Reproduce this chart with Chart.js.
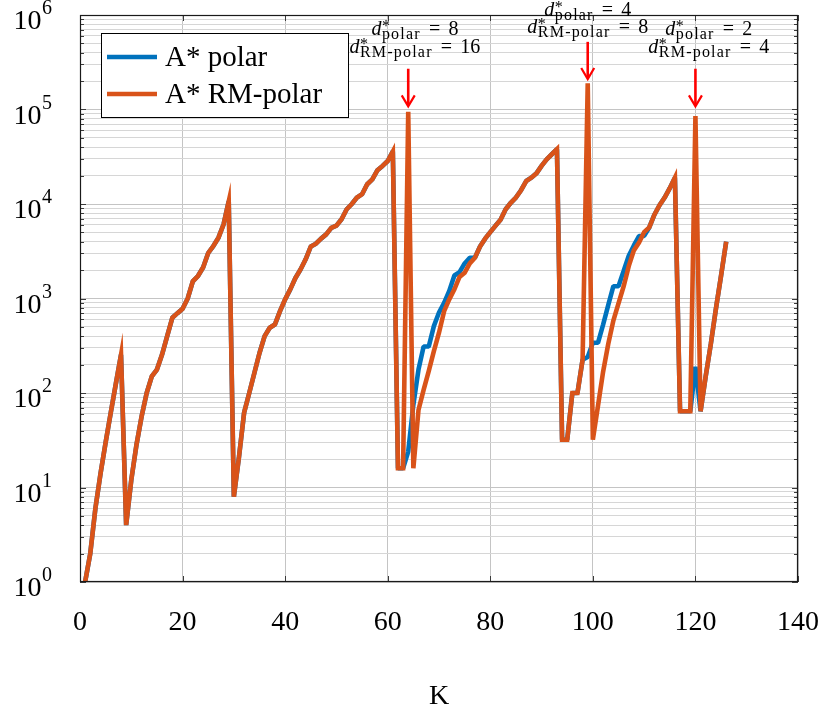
<!DOCTYPE html>
<html>
<head>
<meta charset="utf-8">
<script src="https://cdn.jsdelivr.net/npm/chart.js@4.4.1/dist/chart.umd.min.js"></script>
<style>
html,body{margin:0;padding:0;background:#ffffff;}
#wrap{width:824px;height:711px;position:relative;}
</style>
</head>
<body>
<div id="wrap"><canvas id="chart" width="824" height="711"></canvas></div>
<script>
// ---------------- data ----------------
const kValues = [
  1,2,3,4,5,6,7,8,9,10,
  11,12,13,14,15,16,17,18,19,20,
  21,22,23,24,25,26,27,28,29,30,
  31,32,33,34,35,36,37,38,39,40,
  41,42,43,44,45,46,47,48,49,50,
  51,52,53,54,55,56,57,58,59,60,
  61,62,63,64,65,66,67,68,69,70,
  71,72,73,74,75,76,77,78,79,80,
  81,82,83,84,85,86,87,88,89,90,
  91,92,93,94,95,96,97,98,99,100,
  101,102,103,104,105,106,107,108,109,110,
  111,112,113,114,115,116,117,118,119,120,
  121,122,123,124,125,126
];
const polarValues = [
  1,2,6,14,30,62,126,254,4,12,
  28,56,100,150,177,255,400,625,700,780,
  1000,1520,1730,2130,3030,3590,4400,6100,10668,8,
  21,62,100,163,265,400,490,530,735,980,
  1250,1650,2030,2600,3550,3800,4300,4770,5600,5900,
  6900,8800,10000,11700,12700,16200,18200,22800,25300,28500,
  36000,16,16,24,75,177,310,310,510,710,
  900,1200,1750,1900,2350,2700,2700,3550,4300,5040,
  5870,6800,8800,10300,11700,14000,17500,19000,21100,25300,
  29700,33600,38000,32,32,100,100,225,240,340,
  340,530,850,1350,1350,1950,2830,3640,4570,4600,
  5650,7700,9700,11700,14700,19000,64,64,64,190,
  64,150,330,780,1750,4000
];
const rmPolarValues = [
  1,2,6,14,30,62,126,254,4,12,
  28,56,100,150,177,255,400,625,700,780,
  1000,1520,1730,2130,3030,3590,4400,6100,10668,8,
  21,62,100,163,265,400,490,530,735,980,
  1250,1650,2030,2600,3550,3800,4300,4770,5600,5900,
  6900,8800,10000,11700,12700,16200,18200,22800,25300,28500,
  36000,16,16,94488,16,66,108,170,277,435,
  735,980,1250,1690,1870,2350,2700,3550,4300,5040,
  5870,6800,8800,10300,11700,14000,17500,19000,21100,25300,
  29700,33600,38000,32,32,100,100,225,188976,32,
  73,168,330,585,890,1340,2200,3230,3900,5050,
  5650,7700,9700,11700,14700,19000,64,64,64,85344,
  64,150,330,780,1750,4000
];
const seriesLabels = ['A* polar', 'A* RM-polar'];
const xTickValues = [0, 20, 40, 60, 80, 100, 120, 140];
const xTickLabels = ['0', '20', '40', '60', '80', '100', '120', '140'];
const yTickValues = [1, 10, 100, 1000, 10000, 100000, 1000000];
const yTickBases = ['10', '10', '10', '10', '10', '10', '10'];
const yTickExponents = ['0', '1', '2', '3', '4', '5', '6'];
const yMinorMultipliers = [2, 3, 4, 5, 6, 7, 8, 9];
const xAxisTitle = 'K';

// annotation content
const annotationK = [64, 99, 120];
const annotationLabelK = [65.3, 99, 122.6];
const annotationPolarD = ['8', '4', '2'];
const annotationRMD = ['16', '8', '4'];
const annotationLabelValue = [6.1e5, 9.8e5, 6.1e5];
const annotationArrowFrom = [2.7e5, 5.2e5, 2.7e5];
const annotationArrowTo = [1.08e5, 2.1e5, 1.08e5];

// ---------------- style ----------------
const SERIF = "'Liberation Serif', 'DejaVu Serif', serif";
const BLUE = '#0072BD';
const ORANGE = '#D95319';
const MAJOR_GRID = '#c4c4c4';
const MINOR_GRID = '#d6d6d6';

function isDecade(v) {
  const l = Math.log10(v);
  return Math.abs(l - Math.round(l)) < 1e-9;
}
const yGridValues = [];
yTickValues.forEach((d, i) => {
  yGridValues.push(d);
  if (i < yTickValues.length - 1) yMinorMultipliers.forEach(m => yGridValues.push(d * m));
});

const polarData = kValues.map((k, i) => ({x: k, y: polarValues[i]}));
const rmData = kValues.map((k, i) => ({x: k, y: rmPolarValues[i]}));

function drawDLabel(ctx, cx, baseline, sub, val) {
  const F = 20, S = 16, LS = 1.2;
  const mainItal = `italic ${F}px ${SERIF}`;
  const mainUp = `${F}px ${SERIF}`;
  const small = `${S}px ${SERIF}`;
  const hasLS = ('letterSpacing' in ctx);
  ctx.font = mainItal; const wd = ctx.measureText('d').width;
  ctx.font = small;
  if (hasLS) ctx.letterSpacing = LS + 'px';
  const wsub = ctx.measureText(sub).width;
  if (hasLS) ctx.letterSpacing = '0px';
  ctx.font = mainUp;
  const wEqGlyph = ctx.measureText('=').width;
  const wVal = ctx.measureText(val).width;
  const gap = 0.29 * F, eqBox = 0.8 * F;
  const total = wd + 0.5 + wsub + gap + eqBox + gap + wVal;
  const x = cx - total / 2;
  ctx.fillStyle = '#000';
  ctx.textAlign = 'left';
  ctx.textBaseline = 'alphabetic';
  ctx.font = mainItal; ctx.fillText('d', x, baseline);
  ctx.font = small;
  ctx.fillText('*', x + wd + 0.5, baseline - 4);
  if (hasLS) ctx.letterSpacing = LS + 'px';
  ctx.fillText(sub, x + wd + 0.5, baseline + 4);
  if (hasLS) ctx.letterSpacing = '0px';
  ctx.font = mainUp;
  const xe = x + wd + 0.5 + wsub + gap;
  ctx.fillText('=', xe + (eqBox - wEqGlyph) / 2, baseline);
  ctx.fillText(val, xe + eqBox + gap, baseline);
}

const decorPlugin = {
  id: 'decor',
  afterDatasetsDraw(chart) {
    const {ctx, chartArea: a, scales: {x, y}} = chart;
    ctx.save();
    ctx.strokeStyle = '#3a3a3a';
    ctx.lineWidth = 1;
    ctx.beginPath();
    xTickValues.forEach(v => {
      const px = Math.round(x.getPixelForValue(v)) + 0.5;
      ctx.moveTo(px, a.bottom); ctx.lineTo(px, a.bottom - 6);
      ctx.moveTo(px, a.top); ctx.lineTo(px, a.top + 6);
    });
    yGridValues.forEach(v => {
      const py = Math.round(y.getPixelForValue(v)) + 0.5;
      const len = isDecade(v) ? 6 : 4;
      ctx.moveTo(a.left, py); ctx.lineTo(a.left + len, py);
      ctx.moveTo(a.right, py); ctx.lineTo(a.right - len, py);
    });
    ctx.stroke();
    ctx.strokeStyle = '#1a1a1a';
    ctx.lineWidth = 1.2;
    ctx.strokeRect(Math.round(a.left) + 0.5, Math.round(a.top) + 0.5, Math.round(a.width) - 1, Math.round(a.height) - 1);
    ctx.restore();
  },
  afterDraw(chart) {
    const {ctx, chartArea: a, scales: {x, y}} = chart;
    ctx.save();
    // y tick labels: base with raised exponent
    yTickValues.forEach((v, i) => {
      const py = y.getPixelForValue(v);
      ctx.fillStyle = '#000';
      ctx.textBaseline = 'alphabetic';
      ctx.font = `20px ${SERIF}`;
      ctx.textAlign = 'right';
      const right = a.left - 28;
      ctx.fillText(yTickExponents[i], right, py - 1);
      const we = ctx.measureText(yTickExponents[i]).width;
      ctx.font = `28px ${SERIF}`;
      ctx.fillText(yTickBases[i], right - we - 0.5, py + 14);
    });
    // legend box
    const bx = 101, by = 33, bw = 247, bh = 84;
    ctx.fillStyle = '#ffffff';
    ctx.fillRect(bx, by, bw, bh);
    ctx.strokeStyle = '#000';
    ctx.lineWidth = 1;
    ctx.strokeRect(bx + 0.5, by + 0.5, bw, bh);
    const ds = chart.data.datasets;
    const rowsY = [57, 94];
    seriesLabels.forEach((lab, i) => {
      const d = ds.find(dd => dd.label === lab);
      ctx.strokeStyle = d.borderColor;
      ctx.lineWidth = d.borderWidth;
      ctx.beginPath();
      ctx.moveTo(107, rowsY[i]); ctx.lineTo(157, rowsY[i]);
      ctx.stroke();
      ctx.fillStyle = '#000';
      ctx.font = `29px ${SERIF}`;
      ctx.textAlign = 'left';
      ctx.textBaseline = 'middle';
      ctx.fillText(lab, 165, rowsY[i] + 1);
    });
    // annotations
    annotationK.forEach((k, i) => {
      const ax = x.getPixelForValue(k);
      const y0 = y.getPixelForValue(annotationArrowFrom[i]);
      const y1 = y.getPixelForValue(annotationArrowTo[i]);
      ctx.strokeStyle = '#ff0000';
      ctx.lineWidth = 2.6;
      ctx.lineCap = 'butt';
      ctx.beginPath();
      ctx.moveTo(ax, y0); ctx.lineTo(ax, y1 - 2);
      ctx.stroke();
      ctx.lineWidth = 2.2;
      ctx.lineJoin = 'miter';
      ctx.beginPath();
      ctx.moveTo(ax - 6.5, y1 - 11); ctx.lineTo(ax, y1); ctx.lineTo(ax + 6.5, y1 - 11);
      ctx.stroke();
      const lx = x.getPixelForValue(annotationLabelK[i]);
      const ly = y.getPixelForValue(annotationLabelValue[i]);
      drawDLabel(ctx, lx, ly, 'polar', annotationPolarD[i]);
      drawDLabel(ctx, lx, ly + 17.5, 'RM-polar', annotationRMD[i]);
    });
    ctx.restore();
  }
};

new Chart(document.getElementById('chart'), {
  type: 'line',
  data: {
    datasets: [
      {label: seriesLabels[0], data: polarData, borderColor: BLUE, backgroundColor: BLUE,
       borderWidth: 4.6, pointRadius: 0, fill: false, tension: 0, order: 1, borderJoinStyle: 'bevel'},
      {label: seriesLabels[1], data: rmData, borderColor: ORANGE, backgroundColor: ORANGE,
       borderWidth: 4.6, pointRadius: 0, fill: false, tension: 0, order: 0, borderJoinStyle: 'miter'}
    ]
  },
  options: {
    responsive: false,
    animation: false,
    devicePixelRatio: 1,
    layout: {padding: {top: 15, right: 26, left: 0, bottom: 0}},
    plugins: {legend: {display: false}, tooltip: {enabled: false}},
    elements: {line: {borderJoinStyle: 'miter', borderCapStyle: 'butt'}},
    scales: {
      x: {
        type: 'linear', min: 0, max: 140,
        afterBuildTicks: s => { s.ticks = xTickValues.map(v => ({value: v})); },
        afterFit: s => { s.height = 129; s.paddingLeft = 0; s.paddingRight = 0; },
        grid: {color: MAJOR_GRID, lineWidth: 1, drawTicks: false},
        border: {display: false},
        ticks: {
          autoSkip: false, maxRotation: 0, padding: 24, color: '#000',
          font: {family: SERIF, size: 28},
          callback: (v) => { const i = xTickValues.indexOf(v); return i >= 0 ? xTickLabels[i] : ''; }
        },
        title: {display: true, text: xAxisTitle, color: '#000', font: {family: SERIF, size: 28, lineHeight: 1.05},
                padding: {top: 0, bottom: 0}}
      },
      y: {
        type: 'logarithmic', min: 1, max: 1000000,
        afterBuildTicks: s => { s.ticks = yGridValues.map(v => ({value: v})); },
        afterFit: s => { s.width = 80; s.paddingTop = 0; s.paddingBottom = 0; },
        grid: {
          color: c => (c.tick && isDecade(c.tick.value)) ? MAJOR_GRID : MINOR_GRID,
          lineWidth: 1, drawTicks: false
        },
        border: {display: false},
        ticks: {
          autoSkip: false, padding: 28, color: '#000',
          font: {family: SERIF, size: 28},
          callback: () => ''
        }
      }
    }
  },
  plugins: [decorPlugin]
});
</script>
</body>
</html>
